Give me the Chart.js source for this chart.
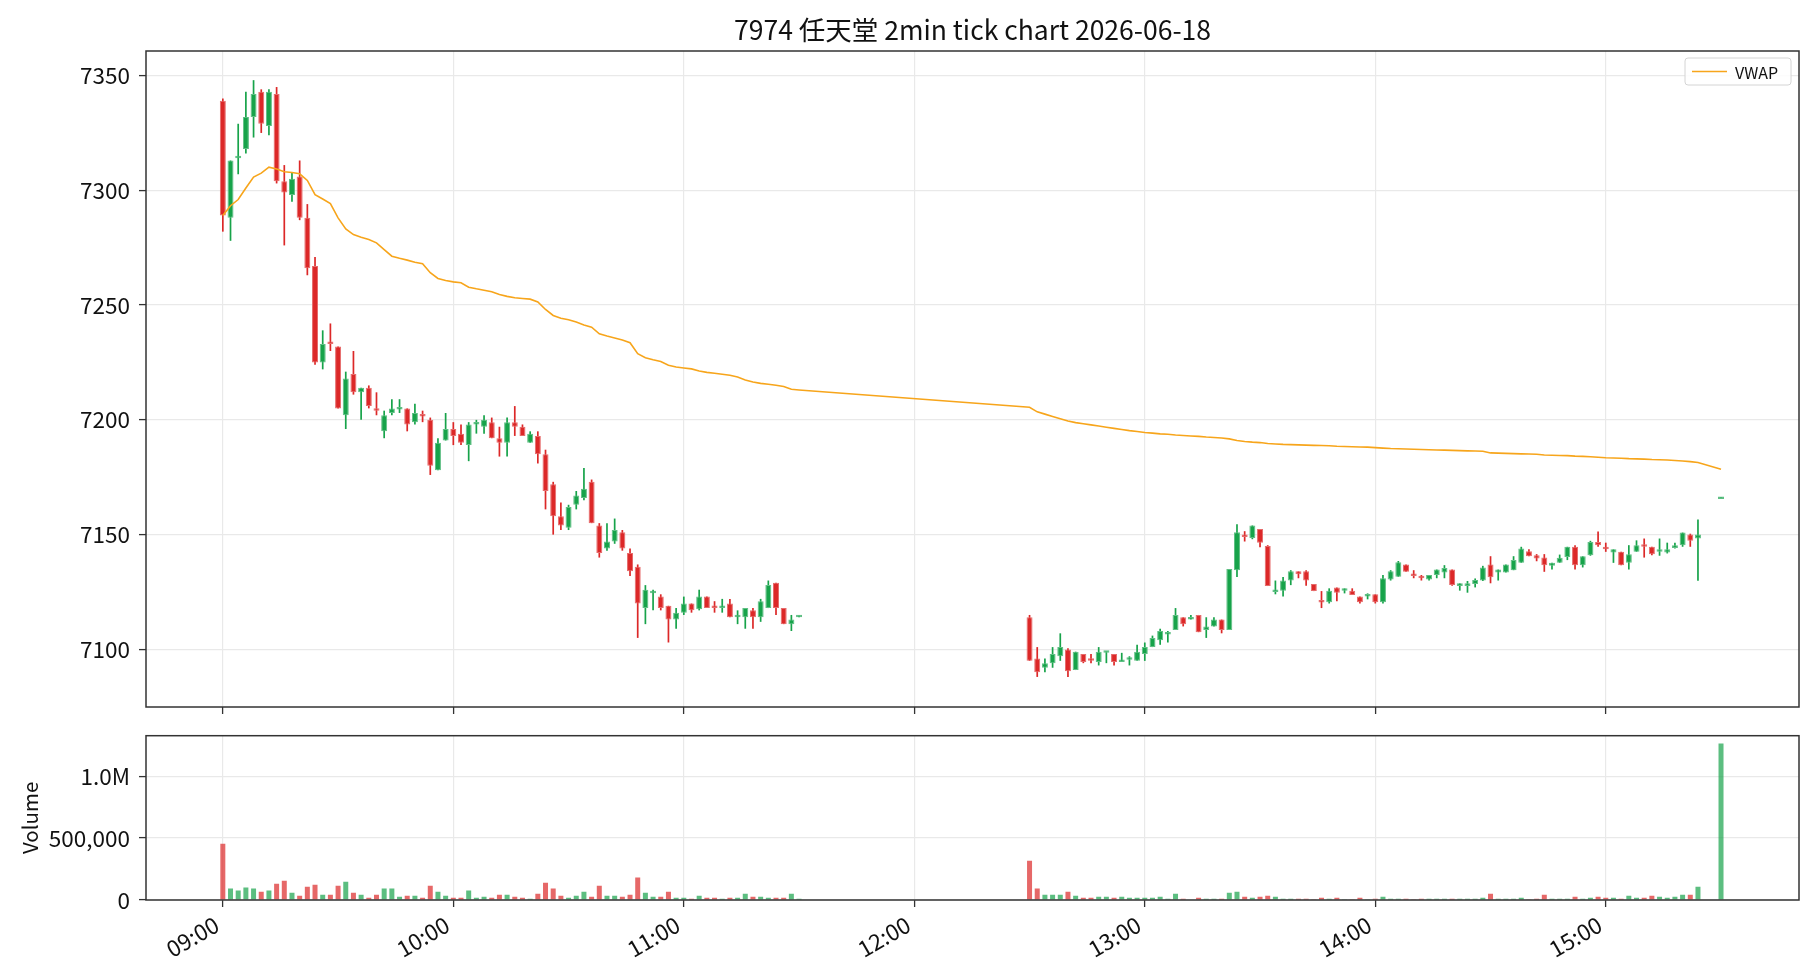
<!DOCTYPE html>
<html><head><meta charset="utf-8">
<script src="https://cdn.jsdelivr.net/npm/chart.js@4.4.1/dist/chart.umd.min.js"></script>
<style>
html,body{margin:0;padding:0;background:#fff;}
#wrap{position:relative;width:1820px;height:980px;background:#fff;}
canvas{position:absolute;left:0;}
#c1{top:0;}
#c2{top:720px;}
</style></head><body>
<div id="wrap"><canvas id="c1" width="1820" height="720"></canvas><canvas id="c2" width="1820" height="260"></canvas></div>
<script>
const chartTitle = "7974 任天堂 2min tick chart 2026-06-18";
const sessions = [["09:00","11:30"],["12:30","15:24"],["15:30","15:30"]];
const xTickLabels = ["09:00","10:00","11:00","12:00","13:00","14:00","15:00"];
const priceTicks = [7100,7150,7200,7250,7300,7350];
const volumeTicks = [0,500000,1000000];

const opens = [
7339,7288,7314,7318,7332,7343,7328,7342,7304,7298,
7306,7288,7267,7225,7234,7232,7202,7220,7212,7214,
7205,7195,7203,7204.5,7205,7199,7202,7200,7178,7191,
7196,7194,7189,7198,7197,7199,7192,7190,7199,7197,
7190,7193,7185,7172,7158,7153,7163,7166,7173,7154,
7144,7147,7151,7142,7136,7118,7124.5,7123,7119,7113,
7116,7120,7117.5,7123,7118.5,7118,7120,7114,7114,7117,
7114,7118,7129,7118,7111,7114,
7114,7096,7092,7094,7097,7100,7091,7098,7096,7094.5,
7098.5,7098,7094.5,7095.5,7095,7098,7101,7104,7106.5,7108.5,
7114,7113,7115,7108.5,7110,7113,7108.5,7134.5,7150,7148.5,
7152.5,7145,7125,7125.5,7130,7134,7134,7128.5,7121,7120.5,
7127,7125.5,7125.6,7123,7123,7124,7120.5,7130.5,7131.6,7137,
7132.5,7131.5,7130.5,7132.4,7133.5,7134.8,7127.6,7127.6,7128.5,7130,
7137,7133.5,7133.5,7134.5,7137.7,7142.8,7141,7140,7136.4,7137.7,
7140.3,7144.7,7136.7,7141,7146.8,7144.7,7142.2,7142.5,7137.7,7142.5,
7145.4,7144.7,7142.5,7142.2,7144.2,7145.4,7150,7148.3,
7165.5];
const highs = [
7340,7313,7329,7343,7348,7344,7344,7345,7311,7308,
7313,7294,7271,7239,7242,7232,7221,7230,7214,7215,
7212,7204,7209,7209,7205,7207,7204,7201,7192,7203,
7199,7198,7199,7200,7202,7201,7197,7201,7206,7198,
7195,7195,7187,7173,7164,7163,7169,7179,7174,7155,
7155,7157,7152,7144,7137,7128,7126,7124,7119,7118,
7123,7120,7126,7123,7121,7122,7122,7117,7118,7118,
7122,7130,7129,7118,7115,7114,
7115,7101,7096,7101,7107,7100.5,7099,7098,7098,7101,
7099,7098,7098.5,7097,7102,7103,7106,7109,7108,7118,
7114,7115,7115,7114,7114,7113,7135,7154.5,7151.5,7154,
7152.5,7145.4,7130,7131.5,7134.5,7134,7134.5,7128.5,7125.4,7126.6,
7127,7126.6,7126.6,7123,7124.4,7124,7132.4,7134.5,7138.5,7137,
7134.5,7132.4,7132.4,7134.8,7136.7,7134.8,7128.8,7129.8,7130.9,7136.4,
7140.6,7134.8,7137,7140.6,7144.7,7143.6,7141.5,7141.5,7137.7,7141.3,
7144.7,7145.4,7140.6,7147.3,7151.4,7146.5,7143.6,7142.5,7145.4,7147.5,
7148.3,7144.7,7148.3,7146.5,7146.5,7150.9,7150.4,7156.6,
7165.5];
const lows = [
7282,7278,7307,7316,7323,7325,7324,7303,7276,7295,
7287,7263,7224,7222,7230,7205,7196,7211,7200,7205,
7202,7192,7202,7203,7195,7198,7199,7176,7178,7191,
7189,7189,7182,7194,7194,7192,7184,7184,7193,7193,
7190,7181,7161,7150,7152,7152,7161,7165,7155,7140,
7143,7146,7143,7132,7105,7111,7117,7117,7103,7109,
7115,7116,7117,7118,7116,7116,7114,7111,7109,7109,
7112,7118,7115,7111,7108,7114,
7095,7088,7090,7092,7095,7088,7091,7094,7094,7093,
7094,7093,7094.5,7093,7095,7095,7101,7102,7103,7108.5,
7110,7113,7107.5,7105,7110,7107,7108.5,7131.5,7147,7148,
7144.5,7127.6,7124,7123,7128,7131,7127.7,7125.4,7118,7120,
7121,7124.4,7123.7,7120,7121.8,7120,7120,7130,7131.6,7133.8,
7131,7130,7130,7131,7131,7127.7,7125.6,7124.7,7127,7129.8,
7128.8,7130,7133.5,7134.5,7137.7,7140.6,7138.4,7133.8,7134.8,7137.7,
7138.9,7134.8,7135.7,7140.8,7144.7,7142.5,7137.7,7136.7,7134.8,7142.5,
7140,7141,7140.8,7141.8,7143.9,7144.7,7144.7,7129.9,
7165.5];
const closes = [
7289,7313,7315,7332,7342,7329,7343,7304,7299,7305,
7288,7266,7225,7233,7233,7205,7218,7212,7214,7206,
7204,7202,7205,7205,7198,7203,7201.5,7180,7190,7196,
7193,7190,7198,7198.5,7200,7192,7190,7199,7197,7193,
7194,7185,7169,7158,7154,7162,7167,7170,7155,7142,
7147,7152,7144,7134,7120,7126,7125,7118,7113,7116,
7120,7117,7123,7118,7118,7118.5,7114,7114.5,7118,7114,
7121,7128,7118,7111,7113,7114,
7095,7090,7094,7098,7101,7090.5,7099,7094.5,7095,7099,
7099,7094.5,7095,7096,7099,7101,7105,7108,7107,7115,
7111,7114,7107.5,7110,7113,7108.5,7135,7151,7149,7154,
7146.5,7127.6,7125.5,7130,7134,7132.7,7130,7125.4,7120.4,7125.6,
7124.7,7126,7123.7,7120.5,7123.5,7120.5,7131,7134,7138,7133.8,
7132,7131,7132.4,7134.8,7135.5,7128,7128.8,7128.8,7130.2,7135.7,
7131.4,7134.8,7137,7138.9,7143.9,7140.6,7139.6,7136.7,7137.7,7139.9,
7144.7,7136.7,7140.6,7146.8,7145.4,7143.6,7143.6,7136.7,7141.5,7145.4,
7144.7,7141.5,7143,7143.6,7145.4,7150.9,7147.3,7150,
7165.5];
const volumes = [
455000,92000,76000,100000,92000,67000,76000,132000,156000,59000,
35000,108000,124000,43000,43000,116000,148000,59000,43000,19000,
43000,92000,92000,27000,35000,35000,19000,116000,67000,35000,
19000,19000,76000,19000,27000,19000,43000,43000,27000,19000,
11000,51000,140000,92000,35000,19000,35000,67000,27000,116000,
35000,35000,27000,43000,181000,59000,27000,27000,67000,19000,
19000,11000,35000,19000,19000,11000,19000,19000,51000,27000,
27000,19000,19000,19000,51000,11000,
318000,92000,43000,43000,43000,67000,35000,19000,19000,27000,
27000,19000,27000,19000,19000,19000,19000,27000,11000,51000,
11000,4000,19000,11000,11000,11000,59000,67000,27000,19000,
27000,35000,27000,11000,11000,11000,11000,3000,19000,11000,
19000,3000,3000,19000,3000,11000,27000,11000,11000,11000,
3000,11000,11000,11000,11000,11000,11000,11000,11000,19000,
51000,11000,11000,11000,19000,3000,11000,43000,11000,11000,
11000,27000,11000,19000,27000,19000,19000,11000,35000,19000,
19000,35000,27000,19000,27000,43000,43000,108000,
1264000];
const vwap = [
7289,7293.3,7296,7301,7305.8,7307.5,7310.1,7309.3,7308.1,7307.8,
7307.2,7304.3,7298.1,7296.2,7294.2,7288,7283.2,7280.7,7279.6,7278.6,
7277.1,7274.2,7271.3,7270.4,7269.6,7268.7,7268,7264.1,7261.6,7260.7,
7260.1,7259.7,7257.8,7257.1,7256.5,7255.8,7254.6,7253.8,7253.2,7252.9,
7252.6,7251.4,7248.1,7245.5,7244.3,7243.6,7242.6,7241.3,7240.4,7237.5,
7236.5,7235.7,7234.8,7233.6,7228.8,7227.1,7226.2,7225.4,7223.8,7223,
7222.6,7222.2,7221.3,7220.7,7220.3,7219.9,7219.4,7218.7,7217.4,7216.5,
7215.9,7215.5,7215.1,7214.5,7213.3,7213.0,
7205.5,7203.5,7202.5,7201.5,7200.5,7199.5,7198.8,7198.3,7197.8,7197.3,
7196.8,7196.3,7195.8,7195.3,7194.9,7194.5,7194.2,7193.9,7193.7,7193.4,
7193.2,7193.0,7192.8,7192.5,7192.3,7192.1,7191.7,7191.0,7190.6,7190.3,
7190.1,7189.7,7189.5,7189.3,7189.2,7189.1,7189.0,7188.9,7188.8,7188.7,
7188.5,7188.4,7188.3,7188.2,7188.1,7187.9,7187.7,7187.5,7187.4,7187.3,
7187.2,7187.1,7187.0,7186.9,7186.8,7186.7,7186.6,7186.5,7186.4,7186.3,
7185.6,7185.5,7185.4,7185.3,7185.2,7185.1,7185.0,7184.7,7184.6,7184.5,
7184.4,7184.2,7184.1,7183.9,7183.7,7183.5,7183.4,7183.3,7183.1,7183.0,
7182.9,7182.7,7182.6,7182.5,7182.3,7182.1,7181.8,7181.4,
7178.5];

const FONT = '"Noto Sans CJK JP", "Noto Sans", sans-serif';
const TXT = '#111';
const GRID = '#e9e9e9';
const AXIS = '#333';
const UP = '#17a34a', DOWN = '#dc2828';
const UP_EDGE = '#5fbf84', DOWN_EDGE = '#e66b6b';
const UP_VOL = 'rgba(23,163,74,0.7)', DOWN_VOL = 'rgba(220,40,40,0.7)';
const VWAP_COLOR = '#f7a51b';
const X_MIN = -20, X_MAX = 410.3;
const TICK_SIZE = 22.5;

function toMin(s){ const p = s.split(':').map(Number); return (p[0]-9)*60 + p[1]; }
function fmtTime(v){ const h = 9 + Math.floor(v/60), m = Math.round(v - Math.floor(v/60)*60); return String(h).padStart(2,'0') + ':' + String(m).padStart(2,'0'); }
const times = [];
sessions.forEach(([a,b]) => { for (let t = toMin(a); t <= toMin(b); t += 2) times.push(t); });
const xTickValues = xTickLabels.map(toMin);
const isUp = closes.map((c,i) => c >= opens[i]);

const framePlugin = { id: 'frame', afterDraw(chart){ const a = chart.chartArea, ctx = chart.ctx; ctx.save(); ctx.strokeStyle = AXIS; ctx.lineWidth = 1.5; ctx.strokeRect(a.left, a.top, a.right - a.left, a.bottom - a.top); ctx.restore(); } };
const titlePlugin = { id: 'ttl', afterDraw(chart){ const a = chart.chartArea, ctx = chart.ctx; ctx.save(); ctx.fillStyle = TXT; ctx.font = '26.5px ' + FONT; ctx.textAlign = 'center'; ctx.textBaseline = 'middle'; ctx.fillText(chartTitle, (a.left + a.right)/2, a.top - 21); ctx.restore(); } };
const legendPlugin = { id: 'vleg', afterDraw(chart){
  const a = chart.chartArea, ctx = chart.ctx; const ds = chart.data.datasets[0];
  const w = 106, h = 27, x = a.right - 8 - w, y = a.top + 7;
  ctx.save();
  ctx.beginPath(); ctx.roundRect(x, y, w, h, 3); ctx.fillStyle = 'rgba(255,255,255,0.85)'; ctx.fill();
  ctx.strokeStyle = '#d4d4d4'; ctx.lineWidth = 1; ctx.stroke();
  ctx.beginPath(); ctx.moveTo(x + 7, y + h/2); ctx.lineTo(x + 42, y + h/2); ctx.strokeStyle = ds.borderColor; ctx.lineWidth = 1.6; ctx.stroke();
  ctx.fillStyle = TXT; ctx.font = '16px ' + FONT; ctx.textAlign = 'left'; ctx.textBaseline = 'middle';
  ctx.fillText(ds.label, x + 50, y + h/2 + 1);
  ctx.restore(); } };

const xScaleBase = () => ({
  type: 'linear', min: X_MIN, max: X_MAX, offset: false,
  afterBuildTicks: s => { s.ticks = xTickValues.map(v => ({ value: v })); },
  grid: { offset: false, color: GRID, lineWidth: 1.2, tickColor: AXIS, tickLength: 7, tickWidth: 1.3 },
  border: { display: false }
});
const fixY = s => { s.width = 146; s.paddingTop = 0; s.paddingBottom = 0; };

new Chart(document.getElementById('c1'), {
  type: 'bar',
  data: { datasets: [
    { type: 'line', label: 'VWAP', data: times.map((t,i) => ({ x: t, y: vwap[i] })), borderColor: VWAP_COLOR, borderWidth: 1.6, pointRadius: 0, tension: 0, order: 0 },
    { label: 'body', data: times.map((t,i) => ({ x: t, y: [opens[i], closes[i]] })), backgroundColor: isUp.map(u => u ? UP : DOWN), borderColor: isUp.map(u => u ? UP_EDGE : DOWN_EDGE), borderWidth: 1, borderSkipped: false, barThickness: 6, minBarLength: 2.5, grouped: false, inflateAmount: 0, order: 1 },
    { label: 'wick', data: times.map((t,i) => ({ x: t, y: [lows[i], highs[i]] })), backgroundColor: isUp.map(u => u ? UP : DOWN), borderWidth: 0, barThickness: 1.7, minBarLength: 1.5, grouped: false, inflateAmount: 0, order: 2 }
  ]},
  options: {
    responsive: false, animation: false, devicePixelRatio: 1,
    layout: { autoPadding: false, padding: { top: 51, right: 21, left: 0, bottom: 0 } },
    plugins: { legend: { display: false }, tooltip: { enabled: false }, title: { display: false } },
    scales: {
      x: Object.assign(xScaleBase(), { afterFit: s => { s.height = 13; s.paddingLeft = 0; s.paddingRight = 0; }, ticks: { display: false } }),
      y: { min: 7074.9, max: 7360.7,
        afterBuildTicks: s => { s.ticks = priceTicks.map(v => ({ value: v })); },
        afterFit: fixY,
        ticks: { callback: v => String(v), font: { family: FONT, size: TICK_SIZE }, color: TXT, padding: 9 },
        grid: { color: GRID, lineWidth: 1.2, tickColor: AXIS, tickLength: 7, tickWidth: 1.3 },
        border: { display: false } }
    }
  },
  plugins: [framePlugin, titlePlugin, legendPlugin]
});

new Chart(document.getElementById('c2'), {
  type: 'bar',
  data: { datasets: [
    { label: 'Volume', data: times.map((t,i) => ({ x: t, y: volumes[i] })), backgroundColor: isUp.map(u => u ? UP_VOL : DOWN_VOL), borderWidth: 0, barThickness: 5, grouped: false, inflateAmount: 0 }
  ]},
  options: {
    responsive: false, animation: false, devicePixelRatio: 1,
    layout: { autoPadding: false, padding: { top: 15.7, right: 21, left: 0, bottom: 0 } },
    plugins: { legend: { display: false }, tooltip: { enabled: false }, title: { display: false } },
    scales: {
      x: Object.assign(xScaleBase(), { afterFit: s => { s.height = 80; s.paddingLeft = 0; s.paddingRight = 0; },
        ticks: { callback: v => fmtTime(v), maxRotation: 30, minRotation: 30, autoSkip: false, font: { family: FONT, size: TICK_SIZE }, color: TXT, padding: 4, labelOffset: -6 } }),
      y: { min: 0, max: 1327000,
        afterBuildTicks: s => { s.ticks = volumeTicks.map(v => ({ value: v })); },
        afterFit: fixY,
        ticks: { callback: v => v === 0 ? '0' : (v >= 1e6 ? (v/1e6).toFixed(1) + 'M' : v.toLocaleString('en-US')), font: { family: FONT, size: TICK_SIZE }, color: TXT, padding: 9 },
        title: { display: true, text: 'Volume', font: { family: FONT, size: 20.5 }, color: TXT, padding: { top: 18, bottom: 0 } },
        grid: { color: GRID, lineWidth: 1.2, tickColor: AXIS, tickLength: 7, tickWidth: 1.3 },
        border: { display: false } }
    }
  },
  plugins: [framePlugin]
});
</script>
</body></html>
